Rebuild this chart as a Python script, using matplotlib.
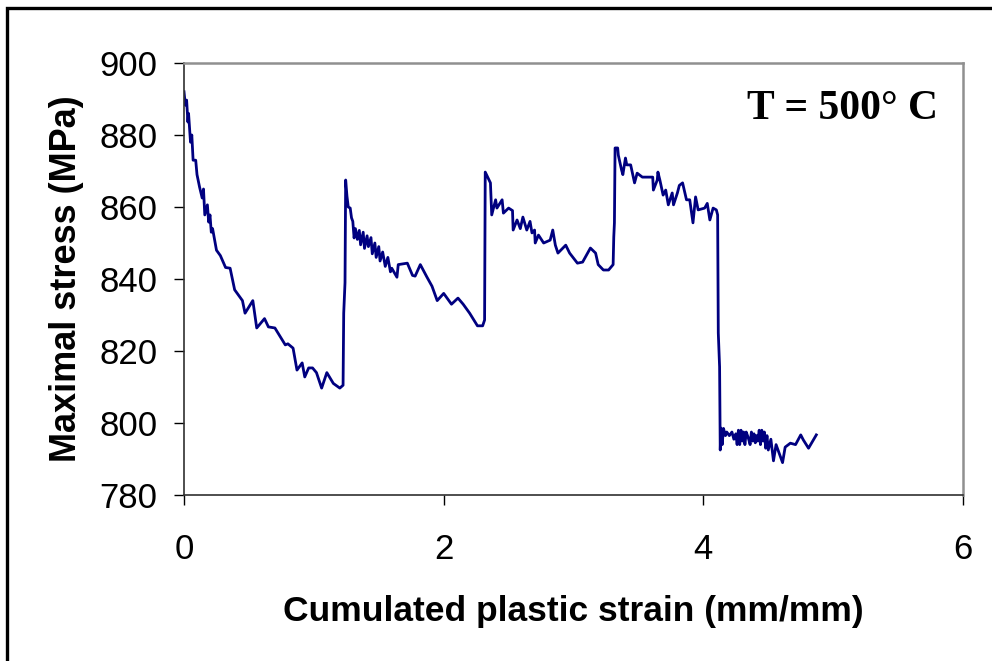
import matplotlib.pyplot as plt
from matplotlib.patches import Rectangle

# cumulated plastic strain (mm/mm) and maximal stress (MPa),
# one pair of lists per load block
strain_1 = [0.00, 0.01, 0.02, 0.03, 0.035, 0.05, 0.06, 0.07, 0.09, 0.10,
            0.12, 0.14, 0.15, 0.16, 0.18, 0.19, 0.20, 0.21, 0.22, 0.25,
            0.28, 0.32, 0.355, 0.39, 0.45, 0.47, 0.53, 0.56, 0.62, 0.65,
            0.70, 0.78, 0.80, 0.84, 0.87, 0.91, 0.93, 0.96, 0.99, 1.02,
            1.06, 1.10, 1.15, 1.20, 1.225]
stress_1 = [892.0, 888.3, 889.7, 883.6, 886.0, 878.0, 880.0, 873.0, 873.0, 869.0,
            865.5, 862.5, 865.0, 857.8, 860.6, 855.8, 857.8, 853.0, 854.0, 848.0,
            846.5, 843.2, 843.0, 837.0, 834.0, 830.5, 834.0, 826.4, 829.0, 826.7,
            826.4, 821.7, 822.0, 820.8, 814.7, 816.7, 812.8, 815.3, 815.3, 814.0,
            809.7, 814.0, 811.0, 809.7, 810.5]

strain_2 = [1.23, 1.24, 1.245, 1.255, 1.265, 1.28, 1.29, 1.30, 1.31, 1.32,
            1.335, 1.35, 1.36, 1.38, 1.39, 1.41, 1.42, 1.44, 1.45, 1.47,
            1.48, 1.50, 1.51, 1.53, 1.55, 1.57, 1.59, 1.60, 1.64, 1.65,
            1.72, 1.76, 1.78, 1.82, 1.87, 1.91, 1.95, 2.00, 2.06, 2.11,
            2.15, 2.20, 2.26, 2.30, 2.315]
stress_2 = [830.5, 839.0, 867.5, 863.0, 860.0, 859.7, 857.0, 856.0, 851.4, 854.0,
            851.0, 853.5, 849.5, 853.0, 848.5, 852.0, 849.0, 851.5, 847.0, 850.0,
            846.0, 849.0, 845.0, 847.5, 843.5, 846.0, 842.0, 843.0, 840.5, 844.0,
            844.4, 841.0, 840.8, 844.0, 840.6, 838.0, 834.0, 836.0, 833.0, 834.7,
            833.0, 830.5, 827.0, 827.0, 828.6]

strain_3 = [2.32, 2.36, 2.37, 2.40, 2.41, 2.45, 2.46, 2.50, 2.53, 2.535,
            2.565, 2.59, 2.61, 2.64, 2.665, 2.68, 2.70, 2.705, 2.73, 2.77,
            2.82, 2.84, 2.86, 2.88, 2.94, 2.97, 3.03, 3.07, 3.13, 3.17,
            3.19, 3.23, 3.27, 3.305]
stress_3 = [869.7, 866.7, 857.8, 862.0, 859.7, 862.0, 858.3, 859.7, 859.0, 853.6,
            856.4, 854.0, 857.2, 853.6, 856.0, 852.8, 853.6, 850.0, 852.2, 850.0,
            850.8, 853.6, 849.4, 847.2, 849.4, 847.2, 844.4, 844.7, 848.6, 847.2,
            844.0, 842.5, 842.5, 844.0]

strain_4 = [3.31, 3.315, 3.32, 3.34, 3.345, 3.37, 3.38, 3.40, 3.41, 3.44,
            3.47, 3.49, 3.53, 3.61, 3.615, 3.645, 3.65, 3.665, 3.69, 3.71,
            3.73, 3.76, 3.77, 3.80, 3.815, 3.84, 3.87, 3.895, 3.92, 3.94,
            3.96, 4.01, 4.03, 4.05, 4.075, 4.10, 4.11]
stress_4 = [851.7, 855.6, 876.4, 876.4, 874.4, 870.3, 869.0, 873.6, 871.7, 871.7,
            866.7, 869.4, 868.3, 868.3, 864.7, 867.5, 869.7, 867.5, 863.3, 864.7,
            860.6, 863.9, 860.6, 863.9, 866.0, 866.7, 862.0, 862.0, 855.6, 862.8,
            859.2, 859.7, 861.0, 856.4, 859.7, 859.2, 857.8]

strain_5 = [4.115, 4.125, 4.13, 4.135, 4.145, 4.155, 4.17, 4.18, 4.20, 4.22,
            4.235, 4.25, 4.26, 4.27, 4.28, 4.29, 4.30, 4.31, 4.32, 4.33,
            4.345, 4.36, 4.37, 4.38, 4.39, 4.40, 4.41, 4.42, 4.43, 4.44,
            4.45, 4.46, 4.47, 4.48, 4.49, 4.50, 4.52, 4.54, 4.56, 4.58,
            4.61, 4.63, 4.67, 4.71, 4.75, 4.77, 4.81, 4.87]
stress_5 = [825.0, 815.6, 792.5, 798.6, 794.0, 798.5, 796.5, 797.5, 796.5, 797.5,
            795.5, 797.0, 794.0, 798.0, 794.0, 798.0, 795.0, 797.5, 794.0, 797.5,
            796.0, 794.0, 797.5, 795.0, 797.0, 794.5, 796.5, 795.0, 798.0, 794.0,
            798.0, 795.0, 797.5, 793.0, 796.5, 792.5, 795.5, 789.5, 794.0, 792.0,
            789.0, 793.3, 794.4, 794.0, 796.7, 795.3, 793.0, 796.7]

strain = strain_1 + strain_2 + strain_3 + strain_4 + strain_5
stress = stress_1 + stress_2 + stress_3 + stress_4 + stress_5

x_ticks = [0, 2, 4, 6]
y_ticks = [780, 800, 820, 840, 860, 880, 900]

plt.rcParams['font.family'] = ['Liberation Sans', 'DejaVu Sans']

fig = plt.figure(figsize=(9.92, 6.61), dpi=100)
ax = fig.add_axes([0.1855, 0.2511, 0.7853, 0.6536])

ax.plot(strain, stress, color='#000080', lw=2)

ax.set_xlim(0, 6)
ax.set_ylim(780, 900)
ax.set_xticks(x_ticks)
ax.set_yticks(y_ticks)
ax.tick_params(axis='both', direction='out', length=7, width=1, labelsize=25)
ax.tick_params(axis='x', pad=20)
ax.tick_params(axis='y', pad=12)

for side in ['left', 'bottom']:
    ax.spines[side].set_color('#303030')
    ax.spines[side].set_linewidth(1.2)
for side in ['top', 'right']:
    ax.spines[side].set_color('#909090')
    ax.spines[side].set_linewidth(1.8)

ax.set_xlabel('Cumulated plastic strain (mm/mm)', fontsize=25.5, fontweight='bold')
ax.set_ylabel('Maximal stress (MPa)', fontsize=26, fontweight='bold')
ax.xaxis.set_label_coords(0.5, -0.232)
ax.yaxis.set_label_coords(-0.128, 0.5)

ax.text(0.845, 0.893, 'T = 500° C', transform=ax.transAxes, ha='center', va='center',
        fontsize=30, fontweight='bold', family='Liberation Serif')

# outer frame, clipped by the right and bottom edges of the picture
fig.patches.append(Rectangle((7 / 992, -0.1), 1.2, 1.1 - 8 / 661, transform=fig.transFigure,
                             fill=False, edgecolor='black', lw=2.4))

fig.savefig('out.png', dpi=100)
